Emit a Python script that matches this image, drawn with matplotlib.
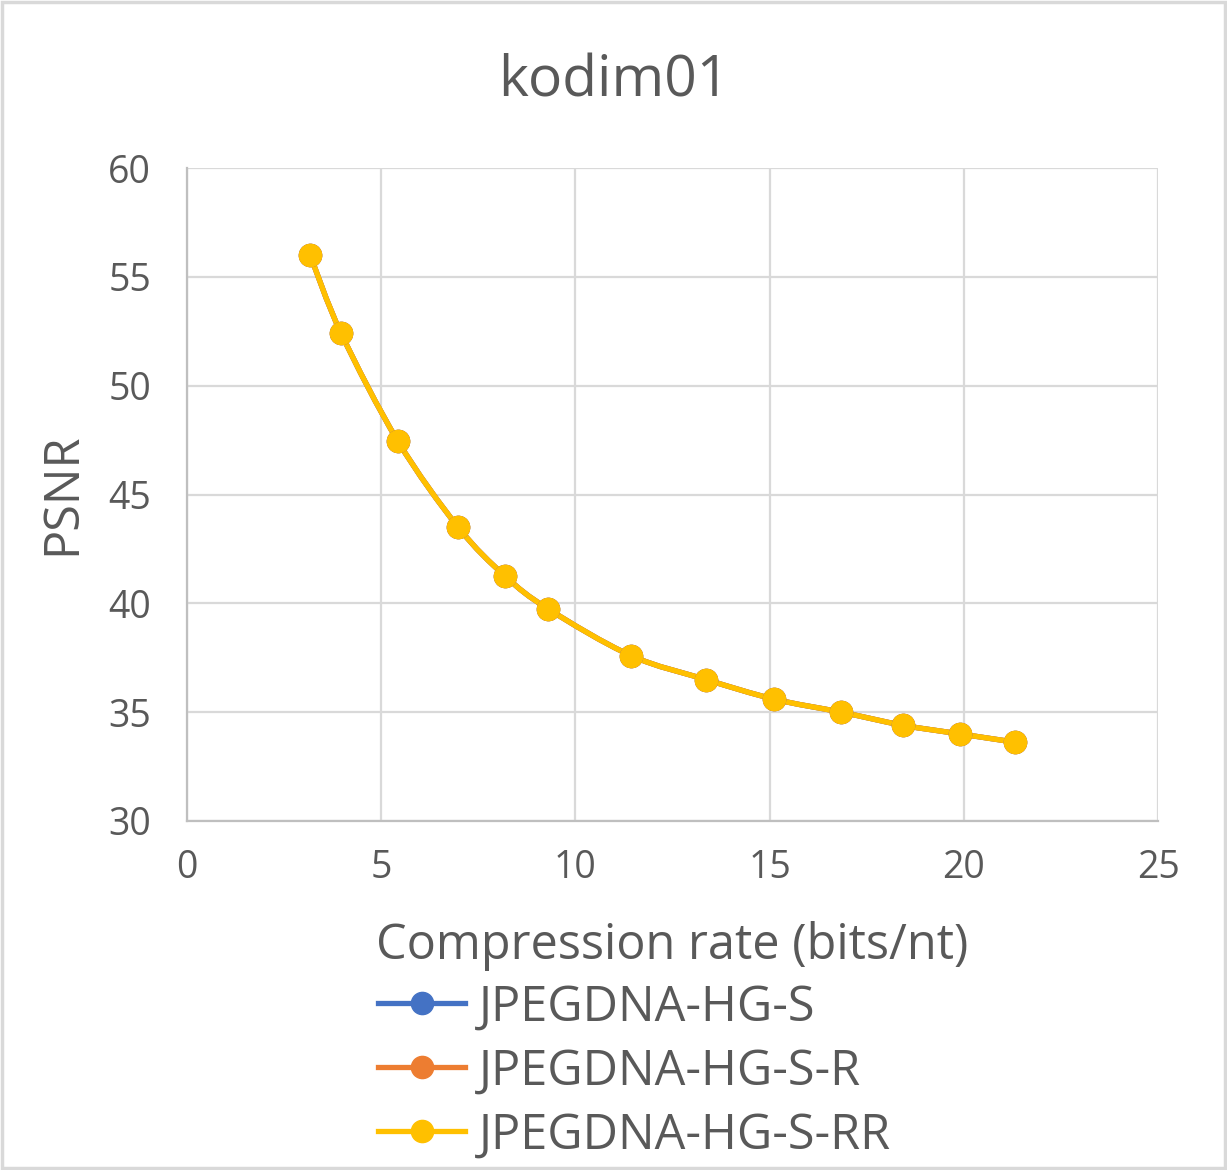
import numpy as np
import matplotlib
matplotlib.use("Agg")
import matplotlib.pyplot as plt
from matplotlib.path import Path
from matplotlib.patches import PathPatch, Rectangle
from matplotlib.lines import Line2D

plt.rcParams['font.family'] = ['Open Sans', 'DejaVu Sans']

rate = [3.17, 3.97, 5.43, 6.98, 8.19, 9.29, 11.43, 13.36, 15.11, 16.84, 18.43, 19.90, 21.32]
psnr_s = [56.0, 52.4, 47.45, 43.5, 41.25, 39.75, 37.6, 36.5, 35.6, 35.0, 34.4, 34.0, 33.62]
psnr_r = list(psnr_s)
psnr_rr = list(psnr_s)
series = [("JPEGDNA-HG-S", psnr_s, "#4472C4"),
          ("JPEGDNA-HG-S-R", psnr_r, "#ED7D31"),
          ("JPEGDNA-HG-S-RR", psnr_rr, "#FFC000")]

txt = "#595959"
grid = "#D9D9D9"


def smooth_path(x, y):
    # excel-like smoothed line: catmull-rom as cubic beziers
    p = np.column_stack([x, y])
    verts = [p[0]]
    codes = [Path.MOVETO]
    n = len(p)
    for i in range(n - 1):
        p0 = p[i - 1] if i > 0 else p[i]
        p1 = p[i]
        p2 = p[i + 1]
        p3 = p[i + 2] if i + 2 < n else p[i + 1]
        c1 = p1 + (p2 - p0) / 6.0
        c2 = p2 - (p3 - p1) / 6.0
        verts += [c1, c2, p2]
        codes += [Path.CURVE4] * 3
    return Path(verts, codes)


fig = plt.figure(figsize=(12.27, 11.7), dpi=100)
ax = fig.add_axes([0.1524, 0.2983, 0.7914, 0.5581])

for name, vals, col in series:
    ax.add_patch(PathPatch(smooth_path(rate, vals), fill=False, edgecolor=col,
                           lw=3.8, capstyle='round', zorder=3))
    ax.plot(rate, vals, 'o', color=col, ms=16, zorder=4)

ax.set_xlim(0, 25)
ax.set_ylim(30, 60)
ax.set_xticks(range(0, 26, 5))
ax.set_yticks(range(30, 61, 5))
ax.grid(True, color=grid, lw=1.6)
ax.set_axisbelow(True)
for s in ax.spines.values():
    s.set_visible(False)
ax.spines['left'].set_visible(True)
ax.spines['bottom'].set_visible(True)
ax.spines['left'].set_color("#BFBFBF")
ax.spines['bottom'].set_color("#BFBFBF")
ax.spines['left'].set_linewidth(1.6)
ax.spines['bottom'].set_linewidth(1.6)
ax.tick_params(length=0, labelsize=27, colors=txt)
ax.tick_params(axis='y', pad=26)
ax.tick_params(axis='x', pad=20)

fig.text(672 / 1227, 1 - 946 / 1170, "Compression rate (bits/nt)", ha='center', va='center',
         fontsize=35, color=txt)
fig.text(63 / 1227, 1 - 494 / 1170, "PSNR", ha='center', va='center', rotation=90,
         fontsize=35, color=txt)
fig.text(0.5, 1 - 82 / 1170, "kodim01", ha='center', va='center', fontsize=41, color=txt)

handles = [Line2D([], [], color=c, lw=3.8, marker='o', ms=16) for _, _, c in series]
fig.legend(handles, [n for n, _, _ in series], loc='upper left',
           bbox_to_anchor=(0.308, 0.160), frameon=False, fontsize=35,
           labelcolor=txt, handlelength=1.8, handletextpad=0.27,
           labelspacing=0.3, borderpad=0, borderaxespad=0)

fig.patches.append(Rectangle((0.002, 0.002), 0.996, 0.996, transform=fig.transFigure,
                             fill=False, edgecolor=grid, lw=2.5))

plt.savefig("out.png", dpi=100)
